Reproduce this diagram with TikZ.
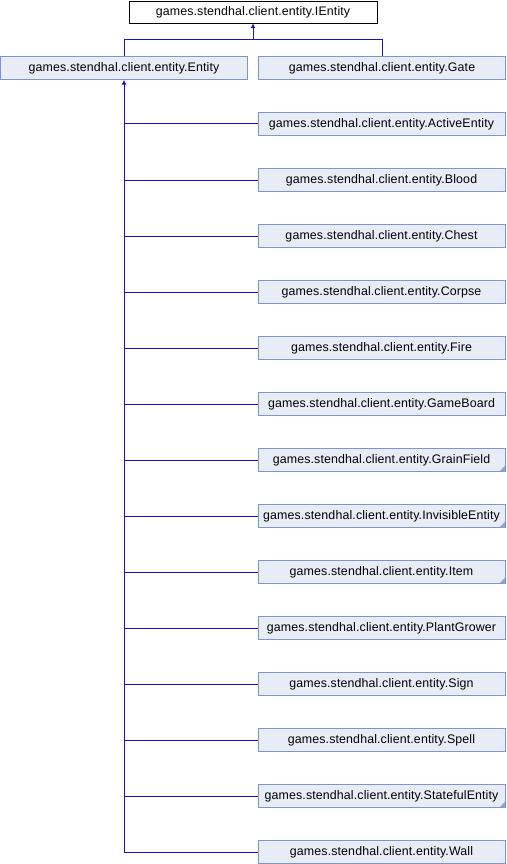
\documentclass[tikz,border=0pt]{standalone}
\usepackage{fontspec}
\setmainfont{Liberation Sans}[LetterSpace=1]
\usetikzlibrary{arrows.meta}

\definecolor{edgeblue}{HTML}{1A1A9E}
\definecolor{clsfill}{HTML}{E8ECF6}
\definecolor{clsline}{HTML}{7C95CC}
\definecolor{cornerfill}{HTML}{8EA3D6}

\begin{document}
\begin{tikzpicture}[
    x=1pt, y=-1pt,
    every node/.style={inner sep=0pt, font=\fontsize{12.4}{14}\selectfont},
    cls/.style={draw=clsline, fill=clsfill, minimum width=247pt, minimum height=23pt},
    iface/.style={draw=black, fill=white, minimum width=248pt, minimum height=22pt},
    inhline/.style={draw=edgeblue, line width=1pt},
    inherit/.style={inhline, -{Latex[length=5pt, width=5pt]}}
    ]
    \useasboundingbox (0,0) rectangle (506,864);
    % root and first level
    \node[iface] (ientity) at (253,12) {games.stendhal.client.entity.IEntity};
    \node[cls] (entity) at (124,68) {games.stendhal.client.entity.Entity};
    \node[cls] (gate) at (382,68) {games.stendhal.client.entity.Gate};
    \coordinate (fork) at (253,40);
    \draw[inherit] (fork) -- (ientity.south);
    \draw[inhline] (entity.north) |- (gate.north |- fork) -- (gate.north);
    % subclasses of Entity
    \foreach \name/\cut [count=\i] in {ActiveEntity/0, Blood/0, Chest/0, Corpse/0,
        Fire/0, GameBoard/0, GrainField/1, InvisibleEntity/1, Item/1,
        PlantGrower/0, Sign/0, Spell/0, StatefulEntity/1, Wall/0} {
      \node[cls] (sub\i) at (381.5,68+56*\i) {games.stendhal.client.entity.\name};
      \ifnum\cut=1
        \fill[cornerfill] (sub\i.south east) -- ++(0,-6) -- ++(-6,6) -- cycle;
      \fi
      \draw[inhline] (sub\i.west) -| (124,68+56*\i);
    }
    \coordinate (trunk) at (124,852);
    \draw[inherit] (trunk) -- (entity.south);
\end{tikzpicture}
\end{document}
